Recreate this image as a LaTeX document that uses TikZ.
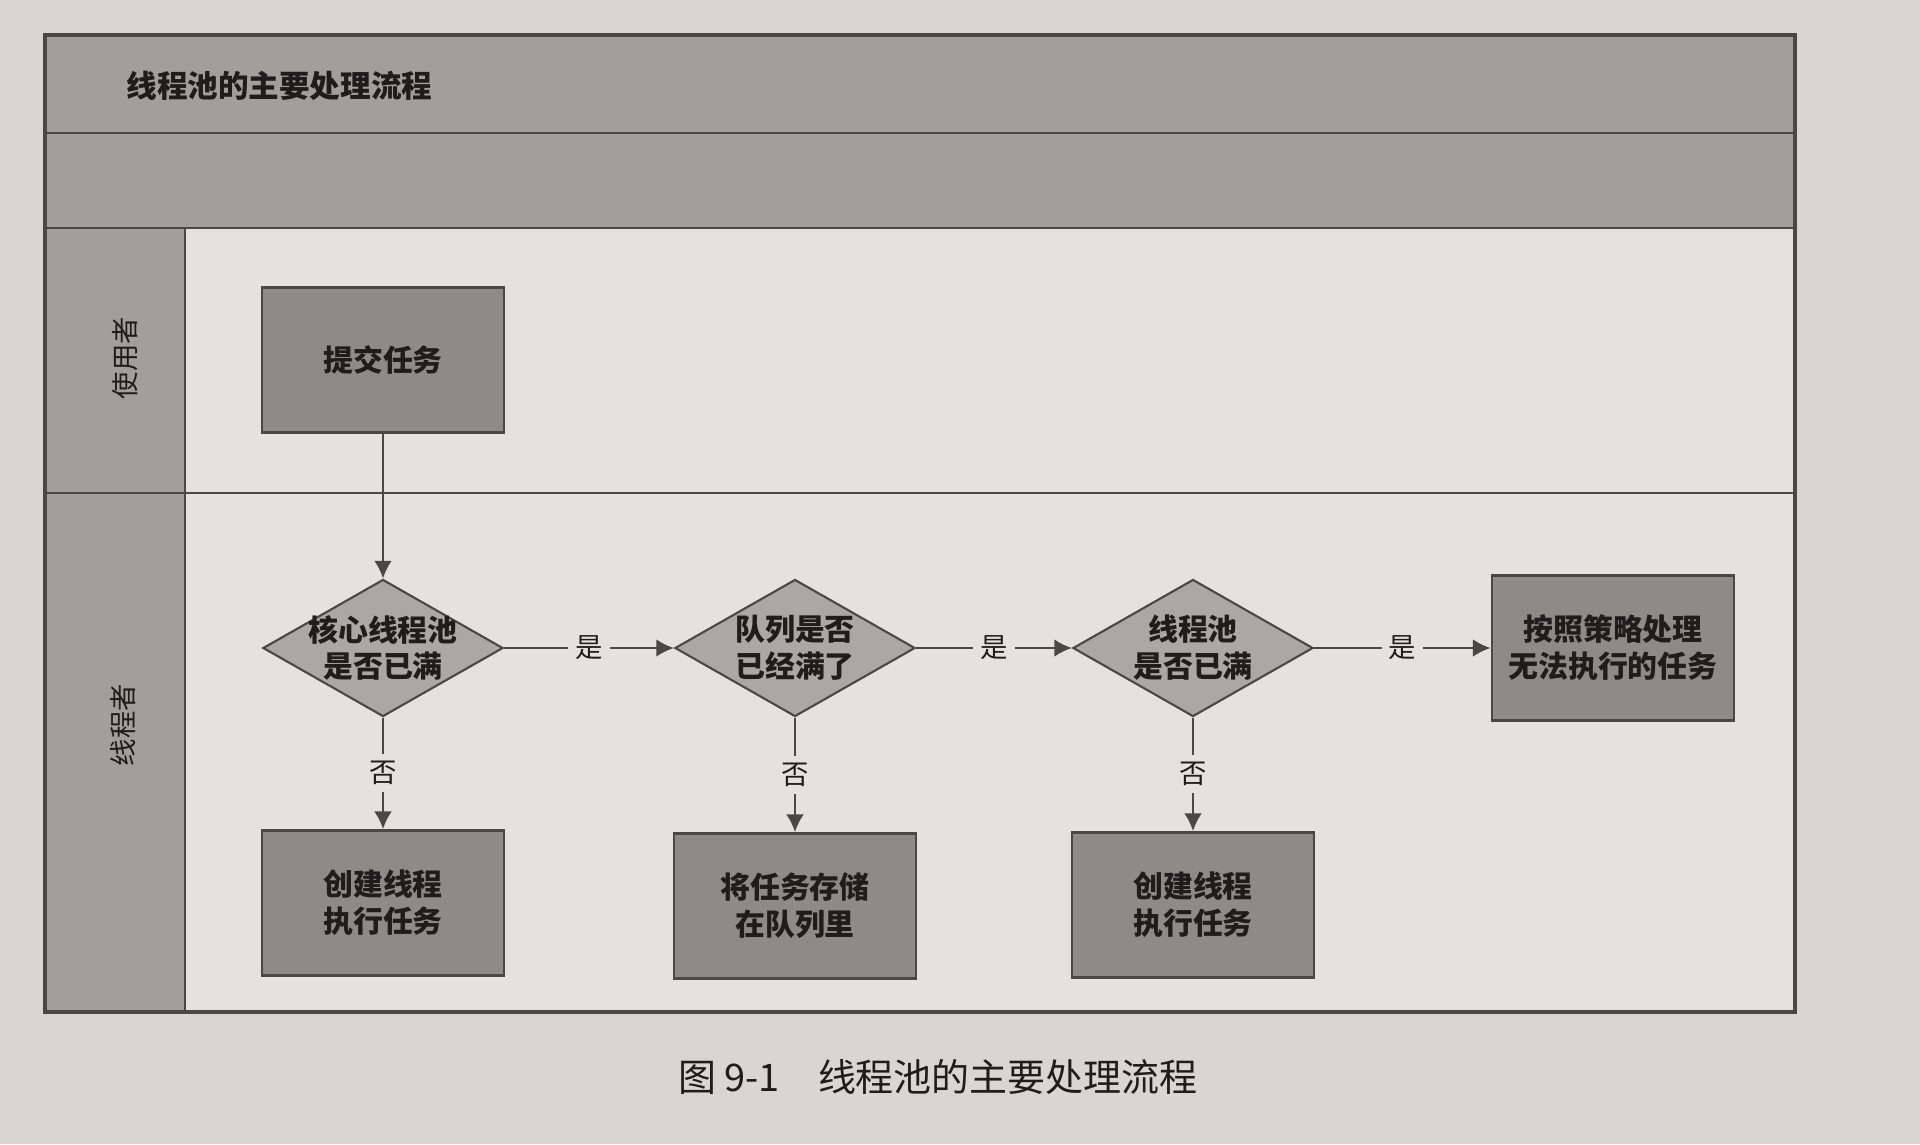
\documentclass[tikz,border=0pt]{standalone}
\usepackage{fontspec}
\setmainfont{Noto Sans CJK SC}
\usetikzlibrary{shapes.geometric,arrows.meta}
\definecolor{pagebg}{HTML}{D9D5D3}
\definecolor{innerbg}{HTML}{E4E1DF}
\definecolor{bandc}{HTML}{A29E9C}
\definecolor{boxc}{HTML}{8E8A88}
\definecolor{diac}{HTML}{ABA7A5}
\definecolor{linec}{HTML}{4A4846}
\definecolor{txtc}{HTML}{1E1D1C}
\tikzset{
  stepbox/.style={draw=linec, fill=boxc, line width=0.8pt, minimum width=2.42cm, minimum height=1.45cm,
    inner sep=0pt, align=center, text=txtc, font=\fontsize{8.5}{10.5}\selectfont\bfseries},
  dia/.style={diamond, draw=linec, fill=diac, line width=0.6pt, minimum width=2.4cm, minimum height=1.37cm, inner sep=0pt},
  diatext/.style={align=center, text=txtc, font=\fontsize{8.5}{10.5}\selectfont\bfseries, inner sep=0pt},
  yn/.style={fill=innerbg, text=txtc, inner sep=2pt, font=\fontsize{7.8}{9}\selectfont},
  arr/.style={draw=linec, line width=0.6pt, -{Latex[length=5pt,width=5pt]}},
  lanelbl/.style={rotate=90, text=txtc, font=\fontsize{7.8}{9}\selectfont},
  frameline/.style={draw=linec, line width=0.8pt}
}
\begin{document}
\begin{tikzpicture}[x=0.01cm,y=-0.01cm]
\useasboundingbox (0,0) rectangle (1920,1144);
% page
\fill[pagebg] (0,0) rectangle (1920,1144);
% frame
\fill[innerbg] (45,35) rectangle (1795,1012);
\fill[bandc] (45,35) rectangle (1795,228);
\fill[bandc] (45,228) rectangle (185,1012);
\draw[frameline] (45,133) -- (1795,133);
\draw[frameline] (45,228) -- (1795,228);
\draw[frameline] (185,228) -- (185,1012);
\draw[frameline] (45,493) -- (1795,493);
\draw[draw=linec, line width=1pt] (45,35) rectangle (1795,1012);
% title and lanes
\node[anchor=west, text=txtc, font=\fontsize{8.7}{10}\selectfont\bfseries] (title) at (114,86) {线程池的主要处理流程};
\node[lanelbl] (lane1) at (125,358) {使用者};
\node[lanelbl] (lane2) at (123,725) {线程者};
% nodes
\node[stepbox] (submit) at (383,360) {提交任务};
\node[dia] (d1) at (383,648) {};
\node[diatext] (t1) at (d1) {核心线程池\\是否已满};
\node[dia] (d2) at (795,648) {};
\node[diatext] (t2) at (d2) {队列是否\\已经满了};
\node[dia] (d3) at (1193,648) {};
\node[diatext] (t3) at (d3) {线程池\\是否已满};
\node[stepbox] (reject) at (1613,648) {按照策略处理\\无法执行的任务};
\node[stepbox] (create1) at (383,903) {创建线程\\执行任务};
\node[stepbox] (queue) at (795,906) {将任务存储\\在队列里};
\node[stepbox] (create2) at (1193,905) {创建线程\\执行任务};
% connectors
\draw[arr] (submit) -- (d1);
\draw[arr] (d1.east) -- node[yn] {是} (d2.west);
\draw[arr] (d2.east) -- node[yn] {是} (d3.west);
\draw[arr] (d3.east) -- node[yn] {是} (reject.west);
\draw[arr] (d1.south) -- node[yn] {否} (create1.north);
\draw[arr] (d2.south) -- node[yn] {否} (queue.north);
\draw[arr] (d3.south) -- node[yn] {否} (create2.north);
% caption
\node[text=txtc, font=\fontsize{10.8}{12}\selectfont] (caption) at (938,1077) {图 9-1\quad 线程池的主要处理流程};
\end{tikzpicture}
\end{document}
